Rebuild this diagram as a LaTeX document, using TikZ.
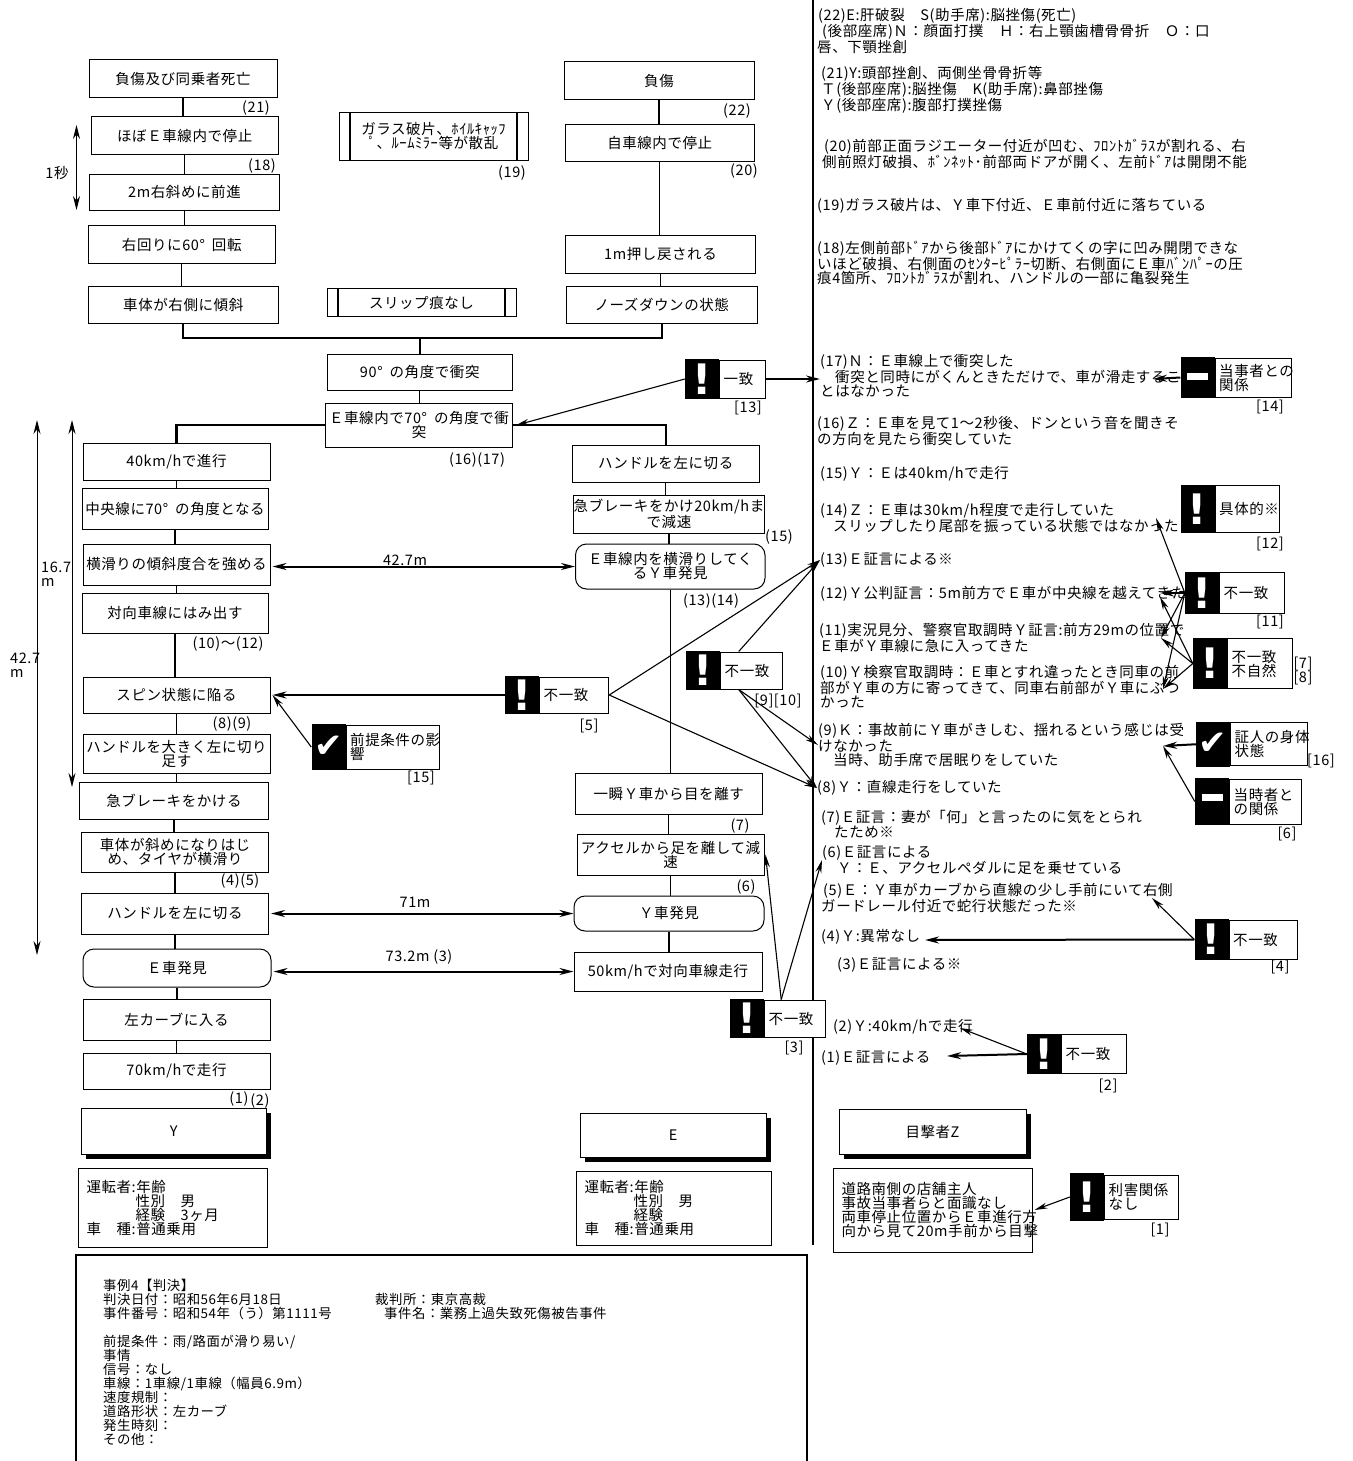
\documentclass[tikz,border=0pt]{standalone}
\usepackage{fontspec}
\setmainfont[LetterSpace=4]{Noto Sans CJK JP}
\newfontfamily\markfont{DejaVu Sans}
\usetikzlibrary{positioning, arrows.meta, shadows}

\tikzset{
  every node/.style={font=\fontsize{14.5}{14}\selectfont, inner sep=0pt},
  flowbox/.style={draw, line width=1pt, fill=white, align=center},
  roundbox/.style={flowbox, rounded corners=11pt},
  infobox/.style={flowbox, align=left, inner xsep=8pt},
  shadowbox/.style={flowbox, drop shadow={shadow xshift=4.5pt, shadow yshift=-5pt, opacity=1, fill=black}},
  tagmark/.style={fill=black, text=white, minimum width=34, font=\markfont\bfseries\fontsize{42}{42}\selectfont},
  tagcheck/.style={tagmark, font=\markfont\fontsize{34}{34}\selectfont},
  tagnote/.style={draw, line width=1pt, fill=white, align=left, inner xsep=4pt},
  note/.style={anchor=west, align=left},
  smalltext/.style={note, font=\fontsize{13.4}{14}\selectfont},
  flowline/.style={line width=1.3pt},
  heavyline/.style={line width=2.2pt},
  thinarrow/.style={line width=1.1pt, -{Stealth[length=13pt, width=6pt]}},
  thickarrow/.style={line width=2pt, -{Stealth[length=14pt, width=7pt]}},
  dimarrow/.style={line width=2pt, {Stealth[length=14pt, width=7pt]}-{Stealth[length=14pt, width=7pt]}},
  spanarrow/.style={line width=1pt, {Stealth[length=14pt, width=7pt]}-{Stealth[length=14pt, width=7pt]}}
}

\begin{document}
\begin{tikzpicture}[x=1pt, y=-1pt]
  \useasboundingbox (0,0) rectangle (1352,1461);

  % Upper flow, Y side
  \node[flowbox, minimum width=188, minimum height=37.5] (l1) at (183,78.75) {負傷及び同乗者死亡};
  \node[flowbox, minimum width=187.5, minimum height=37.5] (l2) at (184.75,135.75) {ほぼＥ車線内で停止};
  \node[flowbox, minimum width=190, minimum height=36.5] (l3) at (184.5,192.25) {2m右斜めに前進};
  \node[flowbox, minimum width=187.5, minimum height=38] (l4) at (181.75,244.5) {右回りに60°\hspace{7pt}回転};
  \node[flowbox, minimum width=190.5, minimum height=37.5] (l5) at (183.25,304.75) {車体が右側に傾斜};

  % Upper flow, E side
  \node[flowbox, minimum width=190, minimum height=38] (r1) at (659,81) {負傷};
  \node[flowbox, minimum width=188.5, minimum height=36.5] (r2) at (659.75,143.25) {自車線内で停止};
  \node[flowbox, minimum width=190, minimum height=37.5] (r3) at (660.5,254.25) {1m押し戻される};
  \node[flowbox, minimum width=190.5, minimum height=37.5] (r4) at (661.75,304.75) {ノーズダウンの状態};

  % Collision
  \node[flowbox, minimum width=189, minimum height=47.5] (g1) at (433.5,136.25) {ガラス破片、ﾎｲﾙｷｬｯﾌ\\ﾟ、ﾙｰﾑﾐﾗｰ等が散乱};
  \node[flowbox, minimum width=189, minimum height=28] (g2) at (421.5,302.5) {スリップ痕なし};
  \node[flowbox, minimum width=185.5, minimum height=36.5] (c1) at (419.75,372.25) {90°\hspace{7pt}の角度で衝突};
  \node[flowbox, minimum width=187, minimum height=44.5] (c2) at (419,425.25) {Ｅ車線内で70°\hspace{7pt}の角度で衝\\突};
  \coordinate (join) at (420,338);

  % Lower flow, Y side
  \node[flowbox, minimum width=187, minimum height=36.5] (y1) at (176.5,461.75) {40km/hで進行};
  \node[flowbox, minimum width=186, minimum height=40.5] (y2) at (175,508.75) {中央線に70°\hspace{7pt}の角度となる};
  \node[flowbox, minimum width=187, minimum height=41] (y3) at (176.5,564.5) {横滑りの傾斜度合を強める};
  \node[flowbox, minimum width=186, minimum height=40] (y4) at (175,613) {対向車線にはみ出す};
  \node[flowbox, minimum width=187, minimum height=36] (y5) at (176.5,695) {スピン状態に陥る};
  \node[flowbox, minimum width=187, minimum height=39] (y6) at (176.5,753.5) {ハンドルを大きく左に切り\\足す};
  \node[flowbox, minimum width=189, minimum height=37] (y7) at (174,800.5) {急ブレーキをかける};
  \node[flowbox, minimum width=187, minimum height=40] (y8) at (175,852) {車体が斜めになりはじ\\め、タイヤが横滑り};
  \node[flowbox, minimum width=187, minimum height=41] (y9) at (175,913.5) {ハンドルを左に切る};
  \node[roundbox, minimum width=188, minimum height=38] (y10) at (177,968) {Ｅ車発見};
  \node[flowbox, minimum width=187, minimum height=41] (y11) at (176.5,1019.5) {左カーブに入る};
  \node[flowbox, minimum width=187, minimum height=36] (y12) at (176.5,1071) {70km/hで走行};

  % Lower flow, E side
  \node[flowbox, minimum width=187.5, minimum height=37] (e1) at (665.75,463.5) {ハンドルを左に切る};
  \node[flowbox, minimum width=190, minimum height=38] (e2) at (669,514) {急ブレーキをかけ20km/hま\\で減速};
  \node[roundbox, minimum width=189.5, minimum height=45] (e3) at (670.25,566.5) {Ｅ車線内を横滑りしてく\\るＹ車発見};
  \node[flowbox, minimum width=186.5, minimum height=41] (e4) at (668.75,793.5) {一瞬Ｙ車から目を離す};
  \node[flowbox, minimum width=187, minimum height=41] (e5) at (670.5,854.5) {アクセルから足を離して減\\速};
  \node[roundbox, minimum width=190, minimum height=35] (e6) at (669,913.5) {Ｙ車発見};
  \node[flowbox, minimum width=188, minimum height=39] (e7) at (668,971.5) {50km/hで対向車線走行};

  % Parties
  \node[shadowbox, minimum width=184.5, minimum height=46] (py) at (173.75,1131) {Y};
  \node[shadowbox, minimum width=186.5, minimum height=44] (pe) at (673.25,1135) {E};
  \node[shadowbox, minimum width=187, minimum height=45] (pz) at (932.5,1131.5) {目撃者Z};
  \node[infobox, text width=172.5, minimum height=79] (dy) at (172.75,1207.5) {運転者:年齢\\\hspace*{49pt}性別　男\\\hspace*{49pt}経験　3ヶ月\\車　種:普通乗用};
  \node[infobox, text width=178.5, minimum height=74] (de) at (673.75,1208) {運転者:年齢\\\hspace*{49pt}性別　男\\\hspace*{49pt}経験\\車　種:普通乗用};
  \node[infobox, text width=182.5, minimum height=84] (dz) at (932.75,1210) {道路南側の店舗主人\\事故当事者らと面識なし\\両車停止位置からＥ車進行方\\向から見て20m手前から目撃};

  % Flow lines
  \foreach \a/\b in {l1/l2, l2/l3, l3/l4, l4/l5, r1/r2, r2/r3, r3/r4, c1/c2,
                     y1/y2, y2/y3, y3/y4, y4/y5, y5/y6, y6/y7, y7/y8, y8/y9, y9/y10, y10/y11, y11/y12,
                     e1/e2, e2/e3, e3/e4, e4/e5, e5/e6, e6/e7}
    \draw[flowline] (\a.south) -- (\a.south |- \b.north);
  \draw[heavyline] (l5.south) -- (l5.south |- join) -- (r4.south |- join) -- (r4.south);
  \draw[flowline] (join) -- (join |- c1.north);
  \draw[heavyline] (c2.west) -| (y1.north);
  \draw[heavyline] (c2.east) -| (e1.north);

  % Side lines of the two plain facts
  \foreach \n in {g1, g2} {
    \draw[flowline] ([xshift=11.5]\n.north west) -- ([xshift=11.5]\n.south west);
    \draw[flowline] ([xshift=-11.5]\n.north east) -- ([xshift=-11.5]\n.south east);
  }

  % Distances
  \draw[dimarrow] ([xshift=2]y3.east |- e3.west) -- (e3.west);
  \draw[dimarrow] ([xshift=2]y9.east |- e6.west) -- (e6.west);
  \draw[dimarrow] ([xshift=2]y10.east |- e7.west) -- (e7.west);
  \node (dist1) at (405,560) {42.7m};
  \node (dist2) at (415,902) {71m};
  \node (dist3) at (419,957) {73.2m (3)};

  \coordinate (sec1) at (76.5,125);
  \coordinate (sec2) at (76.5,210);
  \coordinate (span1) at (72,420);
  \coordinate (span2) at (72,787);
  \coordinate (span3) at (37,420);
  \coordinate (span4) at (37,955);
  \draw[spanarrow] (sec1) -- (sec2);
  \draw[spanarrow] (span1) -- (span2);
  \draw[spanarrow] (span3) -- (span4);
  \node (secl) at (57,173) {1秒};
  \node[align=left, anchor=west] (spanl1) at (41,574) {16.7\\m};
  \node[align=left, anchor=west] (spanl2) at (10,665.5) {42.7\\m};

  % Divider
  \draw[flowline] (813,0) -- (813,1245);

  % Statements
  \node[note] (p22) at (817,31) {\hspace*{1pt}(22)E:肝破裂　S(助手席):脳挫傷(死亡)\\\hspace*{5pt}(後部座席)Ｎ：顔面打撲　Ｈ：右上顎歯槽骨骨折　Ｏ：口\\唇、下顎挫創};
  \node[note] (p21) at (821,90) {(21)Y:頭部挫創、両側坐骨骨折等\\Ｔ(後部座席):脳挫傷　K(助手席):鼻部挫傷\\Ｙ(後部座席):腹部打撲挫傷};
  \node[note] (p20) at (822,154) {\hspace*{2pt}(20)前部正面ラジエーター付近が凹む、ﾌﾛﾝﾄｶﾞﾗｽが割れる、右\\側前照灯破損、ﾎﾞﾝﾈｯﾄ･前部両ドアが開く、左前ﾄﾞｱは開閉不能};
  \node[note] (p19) at (817,206) {(19)ガラス破片は、Ｙ車下付近、Ｅ車前付近に落ちている};
  \node[note] (p18) at (817,263) {(18)左側前部ﾄﾞｱから後部ﾄﾞｱにかけてくの字に凹み開閉できな\\いほど破損、右側面のｾﾝﾀｰﾋﾟﾗｰ切断、右側面にＥ車ﾊﾞﾝﾊﾟｰの圧\\痕4箇所、ﾌﾛﾝﾄｶﾞﾗｽが割れ、ハンドルの一部に亀裂発生};
  \node[note] (p17) at (820,376) {(17)Ｎ：Ｅ車線上で衝突した\\\hspace*{15pt}衝突と同時にがくんときただけで、車が滑走するこ\\とはなかった};
  \node[note] (p16) at (817,431) {(16)Ｚ：Ｅ車を見て1～2秒後、ドンという音を聞きそ\\の方向を見たら衝突していた};
  \node[note] (p15) at (820,474) {(15)Ｙ：Ｅは40km/hで走行};
  \node[note] (p14) at (820,518) {(14)Ｚ：Ｅ車は30km/h程度で走行していた\\\hspace*{13pt}スリップしたり尾部を振っている状態ではなかった};
  \node[note] (p13) at (820,560) {(13)Ｅ証言による※};
  \node[note] (p12) at (820,594) {(12)Ｙ公判証言：5m前方でＥ車が中央線を越えてきた};
  \node[note] (p11) at (819,638) {(11)実況見分、警察官取調時Ｙ証言:前方29mの位置で\\Ｅ車がＹ車線に急に入ってきた};
  \node[note] (p10) at (820,687) {(10)Ｙ検察官取調時：Ｅ車とすれ違ったとき同車の前\\部がＹ車の方に寄ってきて、同車右前部がＹ車にぶつ\\かった};
  \node[note] (p9) at (818,745) {(9)Ｋ：事故前にＹ車がきしむ、揺れるという感じは受\\けなかった\\\hspace*{15pt}当時、助手席で居眠りをしていた};
  \node[note] (p8) at (817,788) {(8)Ｙ：直線走行をしていた};
  \node[note] (p7) at (821,824) {(7)Ｅ証言：妻が「何」と言ったのに気をとられ\\\hspace*{13pt}たため※};
  \node[note] (p6) at (822,860) {(6)Ｅ証言による\\\hspace*{15pt}Ｙ：Ｅ、アクセルペダルに足を乗せている};
  \node[note] (p5) at (821,898) {\hspace*{2pt}(5)Ｅ：Ｙ車がカーブから直線の少し手前にいて右側\\ガードレール付近で蛇行状態だった※};
  \node[note] (p4) at (821,937) {(4)Ｙ:異常なし};
  \node[note] (p3) at (837,965) {(3)Ｅ証言による※};
  \node[note] (p2) at (833,1027) {(2)Ｙ:40km/hで走行};
  \node[note] (p1) at (821,1058) {(1)Ｅ証言による};

  % Marks with their notes
  \node[tagmark, minimum height=48] (m1) at (1087,1197) {!};
  \node[tagnote, text width=66, minimum height=44, right=0pt of m1] (t1) {利害関係\\なし};
  \node[tagmark, minimum height=40] (m2) at (1044,1054) {!};
  \node[tagnote, text width=57, minimum height=39, right=0pt of m2] (t2) {不一致};
  \node[tagmark, minimum height=39] (m3) at (747,1018.5) {!};
  \node[tagnote, text width=53, minimum height=37, right=0pt of m3] (t3) {不一致};
  \node[tagmark, minimum height=41] (m4) at (1211.5,939.5) {!};
  \node[tagnote, text width=60, minimum height=39, right=0pt of m4] (t4) {不一致};
  \node[tagmark, minimum height=38] (m5) at (522,695) {!};
  \node[tagnote, text width=61, minimum height=36, right=0pt of m5] (t5) {不一致};
  \node[tagmark, minimum height=47] (m6) at (1212,801.5) {\rule[9pt]{21pt}{7pt}};
  \node[tagnote, text width=64, minimum height=45, right=0pt of m6] (t6) {当時者と\\の関係};
  \node[tagmark, minimum height=51] (m7) at (1210,663.5) {!};
  \node[tagnote, text width=57, minimum height=50, right=0pt of m7] (t7) {不一致\\不自然};
  \node[tagmark, minimum height=39] (m9) at (703,670.5) {!};
  \node[tagnote, text width=54, minimum height=37, right=0pt of m9] (t9) {不一致};
  \node[tagmark, minimum height=42] (m11) at (1202,593) {!};
  \node[tagnote, text width=57, minimum height=40.5, right=0pt of m11] (t11) {不一致};
  \node[tagmark, minimum height=48] (m12) at (1197.5,509) {!};
  \node[tagnote, text width=56, minimum height=47, right=0pt of m12] (t12) {具体的※};
  \node[tagmark, minimum height=40] (m13) at (702,379) {!};
  \node[tagnote, text width=38, minimum height=38, right=0pt of m13] (t13) {一致};
  \node[tagmark, minimum height=41] (m14) at (1197.5,377.5) {\rule[3pt]{21pt}{7pt}};
  \node[tagnote, text width=68, minimum height=39, right=0pt of m14] (t14) {当事者との\\関係};
  \node[tagcheck, minimum height=46] (m15) at (328.5,747) {✔};
  \node[tagnote, text width=85, minimum height=44, right=0pt of m15] (t15) {前提条件の影\\響};
  \node[tagcheck, minimum height=44.5] (m16) at (1213,744.25) {✔};
  \node[tagnote, text width=69, minimum height=43, right=0pt of m16] (t16) {証人の身体\\状態};

  % Free ends of the arrows
  \coordinate (tip14) at (1153,379);
  \coordinate (tipa) at (1156,518);
  \coordinate (tipb) at (1160,593);
  \coordinate (tipc) at (1160,597);
  \coordinate (tipd) at (1161,638);
  \coordinate (tipe) at (1163,689);
  \coordinate (tipf) at (1163,746);
  \coordinate (tipg) at (1152,898);
  \coordinate (tiph) at (925,940);
  \coordinate (tipi) at (960,1028);
  \coordinate (tipj) at (947,1056);

  % Arrows
  \draw[thinarrow] (m13.west) -- ([xshift=3]c2.east);
  \draw[thickarrow] (t13.east) -- (t13.east -| p17.west);
  \draw[thickarrow] (m14.west) -- (tip14);
  \draw[thickarrow] (m5.west) -- ([xshift=2]y5.east);
  \draw[thinarrow] (m15.west) -- ([xshift=2]y5.east);
  \draw[thinarrow] (t5.east) -- (p13.west);
  \draw[thinarrow] (t5.east) -- (p8.west);
  \draw[thinarrow] ([xshift=-13]t9.north) -- (p13.west);
  \draw[thinarrow] ([xshift=-13]t9.south) -- (p9.west);
  \draw[thinarrow] ([xshift=-13]t9.south) -- (p8.west);
  \draw[thinarrow] ([xshift=-14]t3.north) -- ([xshift=1]e5.east);
  \draw[thinarrow] ([xshift=-14]t3.north) -- (p6.west);
  \draw[thinarrow] (m11.west) -- (tipa);
  \draw[thickarrow] (m11.west) -- (tipb);
  \draw[thinarrow] (m11.west) -- (tipd);
  \draw[thinarrow] (m11.west) -- (tipe);
  \draw[thinarrow] (m7.west) -- (tipc);
  \draw[thinarrow] (m7.west) -- (tipd);
  \draw[thinarrow] (m7.west) -- (tipe);
  \draw[thickarrow] (m16.west) -- (tipf);
  \draw[thinarrow] (m6.west) -- (tipf);
  \draw[thinarrow] (m4.west) -- (tipg);
  \draw[thickarrow] (m4.west) -- (tiph);
  \draw[thinarrow] (m2.west) -- (tipi);
  \draw[thickarrow] (m2.west) -- (tipj);
  \draw[thinarrow] (m1.west) -- ([xshift=2]dz.east);

  % Small numbers
  \foreach \n/\x/\y/\t in {a21/256/108/(21), a18/262/166/(18), a19/512/173/(19), a22/737/111/(22), a20/744/171/(20),
                           a1617/477/460/(16)(17), a1012/228/644/(10)～(12), a89/232/724/(8)(9), a45/240/881/(4)(5),
                           a1/239/1099/(1), a2/260/1101/(2), a15/779/537/(15), a1314/711/601/(13)(14), a7/740/826/(7), a6/746/887/(6),
                           b1/1160/1230/[1], b2/1108/1086/[2], b3/794/1048/[3], b4/1280/967/[4], b5/589/726/[5], b6/1287/834/[6],
                           b7/1303/664/[7], b8/1303/678/[8], b910/778/701/[9][10], b11/1270/622/[11], b12/1270/544/[12],
                           b13/748/408/[13], b14/1270/407/[14], b15/421/778/[15], b16/1321/761/[16]}
    \node (\n) at (\x,\y) {\t};

  % Case frame
  \draw[flowline] (76,1461) -- (76,1255) -- (807,1255) -- (807,1461);
  \node[smalltext] (caseinfo) at (103,1362) {事例4【判決】\\判決日付：昭和56年6月18日\\事件番号：昭和54年（う）第1111号\\[14pt]前提条件：雨/路面が滑り易い/\\事情\\信号：なし\\車線：1車線/1車線（幅員6.9m）\\速度規制：\\道路形状：左カーブ\\発生時刻：\\その他：};
  \node[smalltext] (casecourt) at (375,1299) {裁判所：東京高裁};
  \node[smalltext] (casename) at (384,1313) {事件名：業務上過失致死傷被告事件};
\end{tikzpicture}
\end{document}
